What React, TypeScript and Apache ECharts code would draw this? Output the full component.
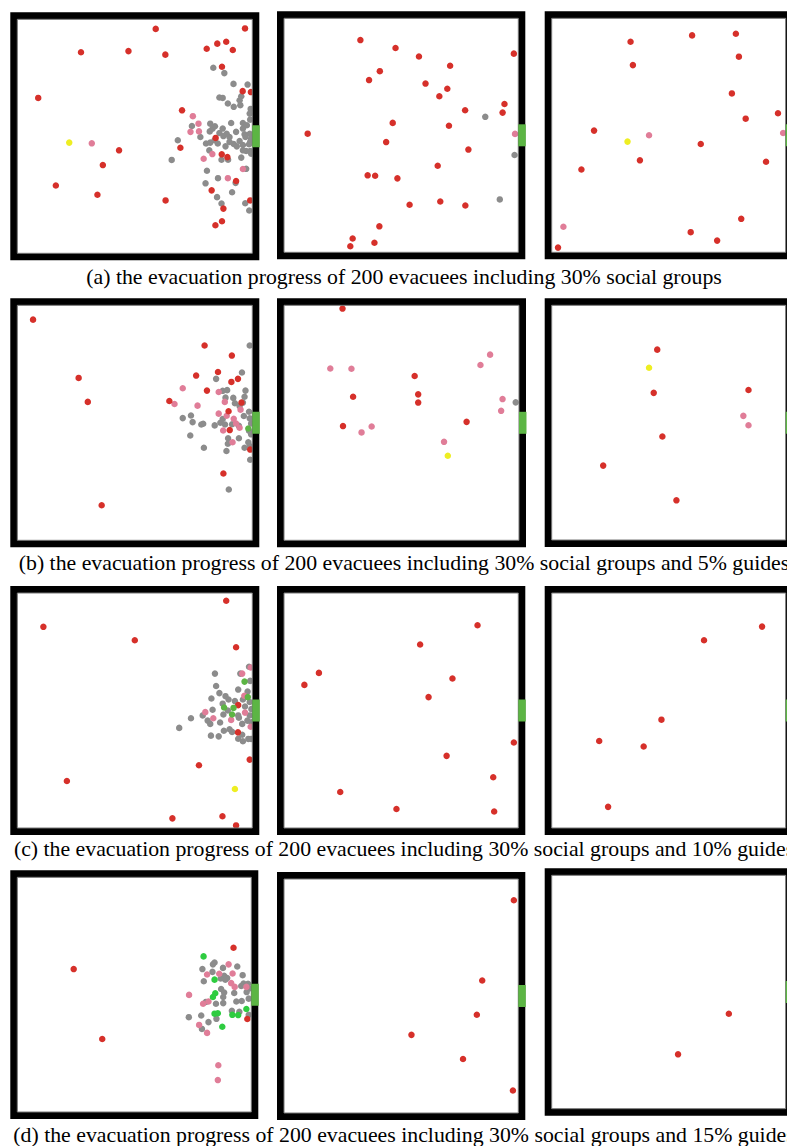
import React, { useEffect, useRef } from "react";
import * as echarts from "echarts";

type P = [number, number];

// ---- captions ----
const captions: string[] = [
  "(a) the evacuation progress of 200 evacuees including 30% social groups",
  "(b) the evacuation progress of 200 evacuees including 30% social groups and 5% guides",
  "(c) the evacuation progress of 200 evacuees including 30% social groups and 10% guides",
  "(d) the evacuation progress of 200 evacuees including 30% social groups and 15% guides",
];

// ---- data: room coordinates (x 0..100 left→right, y 0..100 top→bottom) ----
// Row a, panel 1
const a1Red: P[] = [[58.9,4.1],[96.9,3.9],[27.1,14.1],[47.3,13.6],[63,15.1],[80.6,12.6],[85.1,10.4],[88.9,9.6],[91.7,13.1],[87.1,20.3],[95.9,30.7],[99.4,31.1],[8.9,33.6],[70.1,38.9],[43.3,56],[36.4,62.3],[16.4,71],[34.1,75],[69.4,54.9],[84.4,50.7],[87,57.7],[89.4,58.9],[63.1,77.4],[82.7,73.1],[93.1,69.1],[99.1,77.4],[87.7,80.9],[87.1,86.3],[84.3,88]];
const a1Yellow: P[] = [[22.1,52.7]];
const a1Pink: P[] = [[31.7,53],[74.7,41.4],[77.1,44.6],[73.7,48.1],[77.3,47.9],[79.3,59.6],[83,57.6],[89.6,67.9],[96,64]];
const a1Grey: P[] = [[83.4,20.7],[88.1,23],[92,27.6],[98,27.9],[86,33.4],[87.4,33.6],[89.6,36],[92.1,37.4],[94.6,34.6],[95.3,32.9],[94.9,36.7],[99.3,38.3],[82.1,44.6],[83.1,46.7],[84.1,45.7],[87.4,46.7],[91,44.3],[96,44.3],[97.7,45.3],[99.1,42.9],[74.3,45.6],[77.9,50.3],[80.3,53.1],[82.1,52.7],[81.9,47.9],[86,48.6],[87.7,49.9],[90.3,50.3],[89.1,48.9],[93.1,48.1],[96,46.7],[96.7,49.1],[98.9,48.9],[99.5,51],[97.1,50.3],[99.1,52.4],[96,53.7],[98.6,53.4],[97.4,56.3],[99.1,56.3],[92.1,53.3],[93.4,54.3],[88.6,54.3],[85.3,53.1],[86.9,60],[89.7,60],[95.3,59.1],[97.4,63.9],[68.3,51.7],[65.7,60.1],[81.7,56],[80.7,64.7],[85.4,67.9],[80.1,70.1],[91.4,73.9],[92.9,69.9],[85,76],[86.9,78.7],[97,78.6],[98.7,81.7],[99.5,57.4],[96,56],[94.6,52],[90.3,52.4],[83.9,51.7],[98.9,40.3]];

// Row a, panel 2
const a2Red: P[] = [[32.6,9.3],[47.6,12.7],[57.6,16.3],[98.1,15.1],[70.9,20.3],[40.9,22.6],[36.3,26.4],[60.4,27.9],[69.7,30.1],[66.3,33.3],[94.1,36.6],[77.3,39.3],[93.3,40.3],[46.4,44.7],[70.4,45.9],[10.1,49.3],[43.6,52.9],[78.7,56.1],[65.6,63],[35.7,67.1],[38.9,67.3],[48.4,68.4],[53.6,79.7],[66.7,78.3],[77.4,80],[40.7,88.9],[29.3,94.1],[38.6,95.9],[28.3,97.4]];
const a2Grey: P[] = [[85.9,42.1],[98.4,58.4],[92.1,77.4]];
const a2Pink: P[] = [[98.6,49.4]];

// Row a, panel 3
const a3Red: P[] = [[33.7,10],[60,7.3],[78.7,6.6],[34.7,20],[80,16.4],[77,32.1],[96.7,40.6],[82.9,42.9],[18.1,48],[63.7,53.7],[37.7,60.7],[12.7,64.6],[91.6,61.3],[81,85.7],[59.4,91.4],[70.7,95],[2.7,98]];
const a3Yellow: P[] = [[32.4,52.7]];
const a3Pink: P[] = [[41.6,50],[98.9,49],[5,89.1]];

// Row b, panel 1
const b1Red: P[] = [[6.7,6.1],[79.7,17.1],[91.3,21.4],[26.1,30.9],[85.4,28.4],[76.1,29.9],[93.9,31.3],[91.1,32.6],[80.7,36.3],[30,41.1],[64.7,40.7],[89.9,45.1],[90.4,53.1],[99.1,61.4],[87.7,71.6],[35.9,85.1],[95.4,41.4]];
const b1Pink: P[] = [[70.4,35.3],[66.9,42],[76.7,42.7],[85.7,36.9],[88.3,41.1],[85.7,46.1],[89.1,47],[92.1,48.3],[93.1,50.3],[87.6,53.3],[91.6,58.3],[95,44.4],[94.6,52.1]];
const b1Grey: P[] = [[98.9,17.1],[95.6,28.6],[84.6,31.3],[87.4,36.4],[89.3,36.1],[97.1,36.3],[88.6,39.3],[91.9,39.4],[96.7,38.9],[96,41.4],[92.6,41.7],[94.6,42.9],[73.9,46.9],[70.4,48],[74.6,49.7],[78.3,50.7],[79.1,50.4],[84,51.1],[86.4,50],[88.4,50.7],[91.4,50.6],[96.4,47.1],[98.6,45.3],[98.9,48.1],[99.5,50.3],[94.3,51.3],[98.6,53.4],[99.5,54.9],[89.7,56.6],[94.3,56.6],[73.6,55.4],[89.6,58.9],[98.3,58.3],[98.9,59.9],[96.7,60.6],[79.4,60.6],[89,62],[99.1,65.7],[90,78.4],[87.4,48.4]];
const b1Green: P[] = [[98.3,52.4]];

// Row b, panel 2
const b2Red: P[] = [[24.9,1.4],[55.6,30.1],[29.4,38.9],[57.1,37.9],[57.1,41.4],[25.1,51.4],[77.7,49.6]];
const b2Pink: P[] = [[19.7,26.9],[28.7,27],[87.7,21],[83.6,25.4],[93,39.9],[92.4,44.9],[37.3,51.6],[33,54.1],[68.1,58.1]];
const b2Yellow: P[] = [[69.7,64]];
const b2Grey: P[] = [[98.6,41.3]];

// Row b, panel 3
const b3Red: P[] = [[45.1,18.9],[43.6,37.3],[84.1,36.1],[47.3,55.9],[22,68.3],[53.3,83.1]];
const b3Yellow: P[] = [[41.6,26.6]];
const b3Pink: P[] = [[81.9,47.1],[84.1,51.1]];

// Row c, panel 1
const c1Red: P[] = [[88.9,3.3],[11.1,14.4],[50,20.1],[93.1,23.1],[94,47.7],[93.9,59.3],[98.9,70.9],[77.3,73.3],[21.1,80],[66,95.9],[87.3,95],[93.1,98.9]];
const c1Yellow: P[] = [[92.6,83.4]];
const c1Green: P[] = [[96.7,37.7],[98.1,44.3],[88,48.7],[92,48.9],[91.4,51.7]];
const c1Pink: P[] = [[99.3,31.7],[95.7,34.3],[80,50.7],[83.4,53.3],[91,54],[96.9,50.9],[99.3,56.9],[96.6,43.7]];
const c1Grey: P[] = [[84.1,34.3],[94.9,34.3],[98.6,31.4],[99.1,37.4],[84.6,39.6],[94,41.1],[98,41.9],[86,42.6],[88.6,43.9],[82.6,44.9],[89.9,45.3],[87.4,47.1],[96,45.3],[98.9,46.4],[99.6,49.4],[83.1,49.7],[87.7,51.7],[78.9,52.1],[81,54.3],[82.1,55.7],[86.3,55.1],[94.3,53.1],[95.7,55.7],[97.9,54.3],[99.6,55],[73.9,53.3],[68.9,57.4],[87.9,58.6],[90.3,58],[91.4,59.1],[82.4,60.7],[85.7,61],[95.7,60.3],[94,62],[96,63.1],[98.3,62.1],[99.5,62.1],[94,52.1],[89.6,50],[98.9,52.1],[96.9,48.3],[92.6,46]];

// Row c, panel 2
const c2Red: P[] = [[82.6,13.7],[58.1,21.9],[14.9,34],[8.7,39.1],[71.9,36.4],[61.7,44.3],[98.1,63.6],[69.4,69.3],[89.3,78.4],[24,84.7],[48,91.9],[89.7,93]];

// Row c, panel 3
const c3Red: P[] = [[89.9,14.3],[65.1,20.1],[46.9,53.9],[20.3,63],[39.3,65.3],[24.1,91]];

// Row d, panel 1
const d1Red: P[] = [[92.4,30],[24.1,39.1],[36.3,68.9],[98.3,60.4]];
const d1Green: P[] = [[79.6,33.7],[84.3,43.6],[84.6,49.4],[83.6,51],[84.3,58.1],[85.7,57.9],[91.9,58.6],[94.4,58.7],[97.9,56.1],[87.6,63.7]];
const d1Pink: P[] = [[90.3,37.1],[81.1,41.4],[86.3,41.1],[92,41],[91.4,45.1],[92.9,46.7],[73.4,50.1],[79.4,53.9],[81.7,52.9],[77.7,62.9],[81.1,66.3],[85.9,80.1],[85.7,86.4],[97.9,46.7]];
const d1Grey: P[] = [[84.3,36.3],[83.6,37.1],[87.9,38.6],[94,38],[79.1,39.1],[83.4,40.3],[88.4,42],[89.7,42.9],[86.9,43.1],[96.3,41.7],[79.7,44.3],[95.7,46.3],[98.6,45.4],[99.1,47.4],[98,48.9],[87.1,47.6],[88.4,49.1],[92.7,49.3],[88,51],[98.9,51.7],[93.6,52.9],[95.9,52.7],[84.9,53.9],[88,53.6],[80.6,53.1],[91.7,56.9],[94.9,57.3],[98.9,58.6],[73.3,59.6],[78.6,58.9],[81.7,61.7],[85.1,60.3],[78.9,64.6],[88.9,43.6],[96.7,45.3]];

// Row d, panel 2
const d2Red: P[] = [[98.1,9.1],[84.6,43.4],[82.3,58],[54.4,66.6],[76.4,76.9],[97.7,90.4]];

// Row d, panel 3
const d3Red: P[] = [[75.7,59.3],[54,76.7]];

// ---- colours ----
const COL = {
  red: "#d6302a",
  grey: "#8c8c8c",
  pink: "#e07d98",
  yellow: "#eeee22",
  exitGreen: "#5cb544",
  guideGreen: "#2ecc40",
};

type Group = { data: P[]; color: string };
type Panel = { l: number; t: number; r: number; b: number; groups: Group[] };

const panels: Panel[] = [
  { l: 17.3, t: 19.3, r: 252.3, b: 253.3, groups: [
    { data: a1Grey, color: COL.grey }, { data: a1Pink, color: COL.pink }, { data: a1Red, color: COL.red }, { data: a1Yellow, color: COL.yellow }] },
  { l: 284, t: 18.3, r: 518.3, b: 252.3, groups: [
    { data: a2Grey, color: COL.grey }, { data: a2Pink, color: COL.pink }, { data: a2Red, color: COL.red }] },
  { l: 551.7, t: 18.3, r: 785.7, b: 252.3, groups: [
    { data: a3Pink, color: COL.pink }, { data: a3Red, color: COL.red }, { data: a3Yellow, color: COL.yellow }] },
  { l: 17.3, t: 305.3, r: 252.3, b: 540.3, groups: [
    { data: b1Grey, color: COL.grey }, { data: b1Pink, color: COL.pink }, { data: b1Red, color: COL.red }, { data: b1Green, color: COL.exitGreen }] },
  { l: 284, t: 305.3, r: 519, b: 540.3, groups: [
    { data: b2Grey, color: COL.grey }, { data: b2Pink, color: COL.pink }, { data: b2Red, color: COL.red }, { data: b2Yellow, color: COL.yellow }] },
  { l: 551.7, t: 305.3, r: 785.7, b: 540, groups: [
    { data: b3Pink, color: COL.pink }, { data: b3Red, color: COL.red }, { data: b3Yellow, color: COL.yellow }] },
  { l: 17.3, t: 593, r: 252.3, b: 828, groups: [
    { data: c1Grey, color: COL.grey }, { data: c1Pink, color: COL.pink }, { data: c1Red, color: COL.red }, { data: c1Green, color: COL.exitGreen }, { data: c1Yellow, color: COL.yellow }] },
  { l: 284, t: 593, r: 518.3, b: 828, groups: [{ data: c2Red, color: COL.red }] },
  { l: 551.7, t: 593, r: 785.7, b: 828, groups: [{ data: c3Red, color: COL.red }] },
  { l: 17.3, t: 877.3, r: 251.3, b: 1112, groups: [
    { data: d1Grey, color: COL.grey }, { data: d1Pink, color: COL.pink }, { data: d1Red, color: COL.red }, { data: d1Green, color: COL.guideGreen }] },
  { l: 284, t: 879, r: 518.3, b: 1113, groups: [{ data: d2Red, color: COL.red }] },
  { l: 551.7, t: 875.3, r: 785.7, b: 1108.7, groups: [{ data: d3Red, color: COL.red }] },
];

const captionY = [277, 563, 849, 1135];

export default function App() {
  const ref = useRef<HTMLDivElement>(null);
  useEffect(() => {
    if (!ref.current) return;
    const chart = echarts.init(ref.current, undefined, { renderer: "svg" });
    const grid: any[] = [];
    const xAxis: any[] = [];
    const yAxis: any[] = [];
    const series: any[] = [];
    const graphic: any[] = [];
    const BW = 7;
    panels.forEach((p, i) => {
      const w = p.r - p.l;
      const h = p.b - p.t;
      grid.push({ left: p.l, top: p.t, width: w, height: h, show: false });
      xAxis.push({ gridIndex: i, type: "value", min: 0, max: 100, show: false });
      yAxis.push({ gridIndex: i, type: "value", min: 0, max: 100, inverse: true, show: false });
      p.groups.forEach((g) => {
        series.push({
          type: "scatter",
          xAxisIndex: i,
          yAxisIndex: i,
          data: g.data,
          symbol: "circle",
          symbolSize: 6.5,
          itemStyle: { color: g.color, opacity: 1 },
          emphasis: { disabled: true },
          silent: true,
        });
      });
      graphic.push({
        type: "rect",
        z: 10,
        silent: true,
        shape: { x: p.l - BW / 2, y: p.t - BW / 2, width: w + BW, height: h + BW },
        style: { fill: "none", stroke: "#000", lineWidth: BW },
      });
      graphic.push({
        type: "rect",
        z: 11,
        silent: true,
        shape: { x: p.l, y: p.t, width: w, height: h },
        style: { fill: "none", stroke: "#777", lineWidth: 1 },
      });
      const cy = (p.t + p.b) / 2;
      graphic.push({
        type: "rect",
        z: 12,
        silent: true,
        shape: { x: p.r, y: cy - 11, width: BW + 0.5, height: 22 },
        style: { fill: COL.exitGreen },
      });
    });
    captions.forEach((c, i) => {
      graphic.push({
        type: "text",
        z: 20,
        silent: true,
        x: 404,
        y: captionY[i],
        style: {
          text: c,
          fill: "#000",
          font: "21.8px 'Liberation Serif', 'Times New Roman', serif",
          align: "center",
          verticalAlign: "middle",
        },
      });
    });
    chart.setOption({
      animation: false,
      backgroundColor: "#fff",
      grid,
      xAxis,
      yAxis,
      series,
      graphic,
    });
    return () => chart.dispose();
  }, []);
  return (
    <div
      ref={ref}
      style={{ position: "absolute", left: 0, top: 0, width: 787, height: 1146 }}
    />
  );
}
